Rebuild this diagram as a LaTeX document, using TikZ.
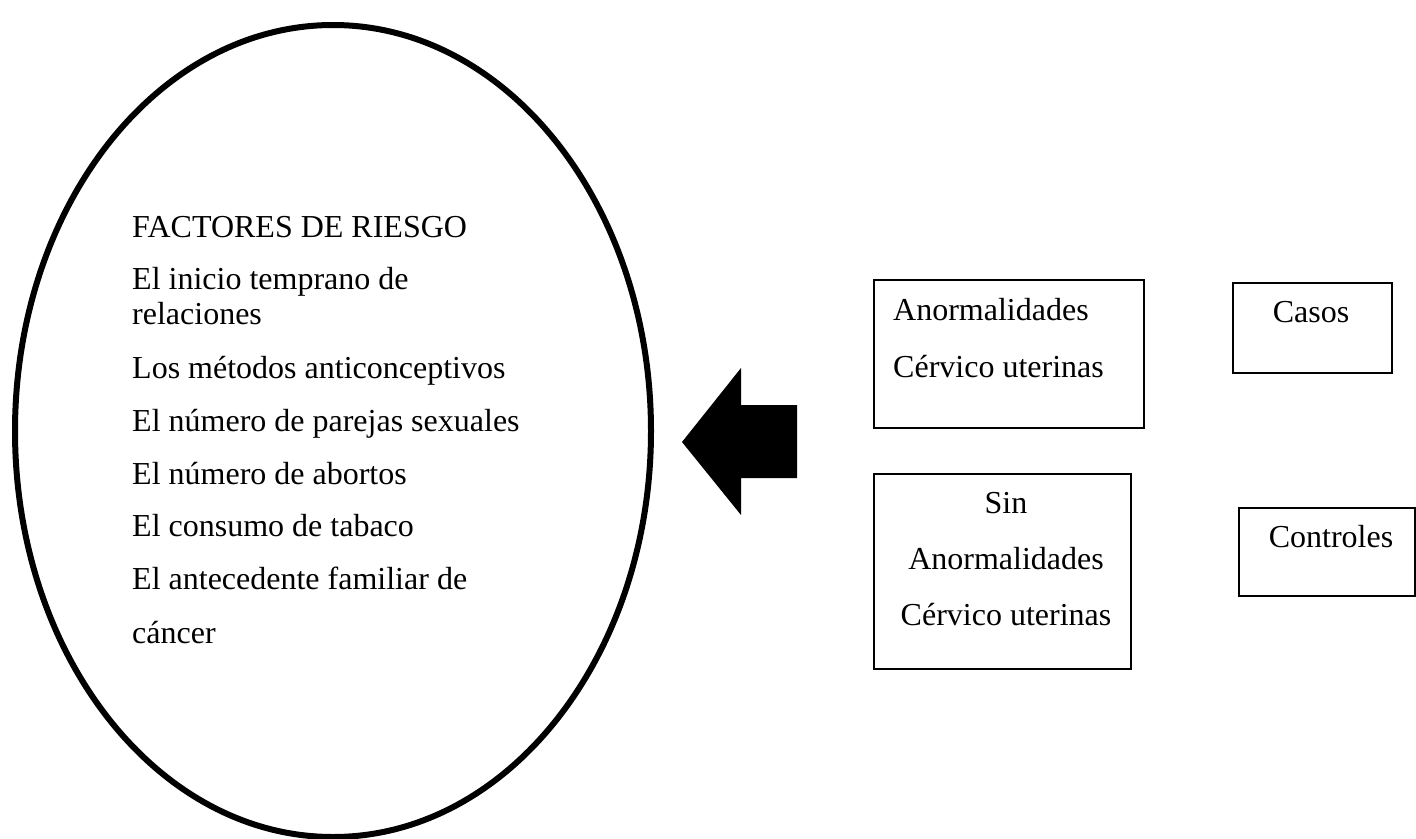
\documentclass[tikz,border=0pt]{standalone}
\usepackage{fontspec}
\setmainfont{Liberation Serif}
\usetikzlibrary{shapes.geometric}
\begin{document}
\begin{tikzpicture}[x=1pt,y=-1pt,
  txt/.style={inner sep=0pt, font=\fontsize{32}{38}\selectfont},
  boxnode/.style={draw, line width=2.2pt, inner sep=0pt, anchor=north west},
  oval/.style={draw, ellipse, line width=6pt, inner sep=0pt}]
\useasboundingbox (0,0) rectangle (1416,838);
% ellipse
\node[oval, minimum width=636pt, minimum height=812pt] (ell) at (333,431) {};
% texts in ellipse
\node[txt, anchor=base west] (t0) at (132,237) {FACTORES DE RIESGO};
\node[txt, anchor=base west] (t1) at (132,289) {El inicio temprano de};
\node[txt, anchor=base west] (t2) at (132,324) {relaciones};
\node[txt, anchor=base west] (t3) at (132,378) {Los métodos anticonceptivos};
\node[txt, anchor=base west] (t4) at (132,431) {El número de parejas sexuales};
\node[txt, anchor=base west] (t5) at (132,484) {El número de abortos};
\node[txt, anchor=base west] (t6) at (132,536) {El consumo de tabaco};
\node[txt, anchor=base west] (t7) at (132,589) {El antecedente familiar de};
\node[txt, anchor=base west] (t8) at (132,643) {cáncer};
% block arrow
\fill (682,442) -- (741,368) -- (741,405) -- (797,405) -- (797,478) -- (741,478) -- (741,515) -- cycle;
% boxes
\node[boxnode, minimum width=270pt, minimum height=148pt] (b1) at (873,279) {};
\node[txt, anchor=base west] (b1a) at (893,320) {Anormalidades};
\node[txt, anchor=base west] (b1b) at (893,377) {Cérvico uterinas};
\node[boxnode, minimum width=257pt, minimum height=195pt] (b2) at (873,473) {};
\node[txt, anchor=base] (b2a) at (1006,513) {Sin};
\node[txt, anchor=base] (b2b) at (1006,569) {Anormalidades};
\node[txt, anchor=base] (b2c) at (1006,625) {Cérvico uterinas};
\node[boxnode, minimum width=159pt, minimum height=90pt] (b3) at (1232,282) {};
\node[txt, anchor=base] (b3a) at (1311,322) {Casos};
\node[boxnode, minimum width=176pt, minimum height=88pt] (b4) at (1238,507) {};
\node[txt, anchor=base] (b4a) at (1331,547) {Controles};
\end{tikzpicture}
\end{document}
